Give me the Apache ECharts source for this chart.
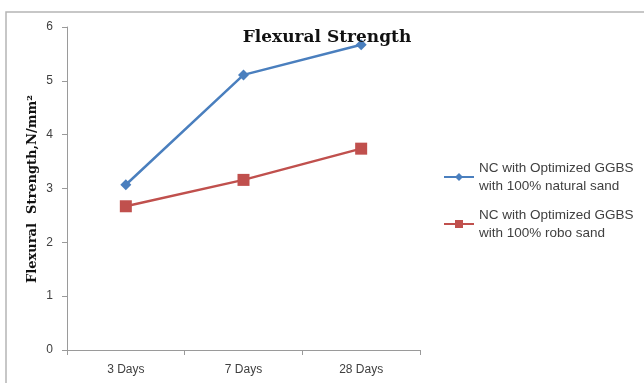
<!DOCTYPE html>
<html>
<head>
<meta charset="utf-8">
<script src="https://cdn.jsdelivr.net/npm/echarts@6/dist/echarts.min.js"></script>
<style>
  html, body { margin: 0; padding: 0; background: #fff; }
  #chart { width: 644px; height: 383px; }
</style>
</head>
<body>
<div id="chart"></div>
<script>
// Curing ages on the x axis
const ages = ['3 Days', '7 Days', '28 Days'];
// Flexural strength (N/mm²) for each mix
const naturalSand = [3.07, 5.11, 5.67];
const roboSand = [2.67, 3.16, 3.74];
const seriesNames = [
  'NC with Optimized GGBS\nwith 100% natural sand',
  'NC with Optimized GGBS\nwith 100% robo sand'
];
const yTicks = { min: 0, max: 6, interval: 1 };

const blue = '#4a7fbe';
const red = '#c0504d';

const chart = echarts.init(document.getElementById('chart'));
chart.setOption({
  animation: false,
  backgroundColor: '#ffffff',
  title: {
    text: 'Flexural Strength',
    left: 322,
    top: 24,
    textAlign: 'center',
    textStyle: { fontFamily: 'DejaVu Serif', fontWeight: 'bold', fontSize: 17, color: '#111' }
  },
  grid: { left: 67, right: 224, top: 27, bottom: 33 },
  legend: {
    orient: 'vertical',
    left: 443,
    top: 159,
    padding: 0,
    itemWidth: 30,
    itemHeight: 10,
    itemGap: 11,
    textStyle: { fontFamily: 'Liberation Sans', fontSize: 13.5, color: '#404040', lineHeight: 18 },
    data: seriesNames
  },
  xAxis: {
    type: 'category',
    data: ages,
    boundaryGap: true,
    axisLine: { lineStyle: { color: '#9a9a9a', width: 1 } },
    axisTick: { show: true, inside: false, length: 5, lineStyle: { color: '#9a9a9a' } },
    axisLabel: { fontFamily: 'Liberation Sans', fontSize: 12, color: '#404040', margin: 14 }
  },
  yAxis: {
    type: 'value',
    min: yTicks.min,
    max: yTicks.max,
    interval: yTicks.interval,
    splitLine: { show: false },
    axisLine: { show: true, lineStyle: { color: '#9a9a9a', width: 1 } },
    axisTick: { show: true, length: 5, lineStyle: { color: '#9a9a9a' } },
    axisLabel: { fontFamily: 'Liberation Sans', fontSize: 12, color: '#404040', margin: 14 }
  },
  graphic: [
    {
      type: 'rect',
      shape: { x: 6, y: 12, width: 700, height: 400 },
      style: { fill: 'none', stroke: '#b5b5b5', lineWidth: 1.5 },
      silent: true
    },
    {
      type: 'text',
      x: 33,
      y: 189,
      rotation: Math.PI / 2,
      style: {
        text: 'Flexural  Strength,N/mm²',
        fontFamily: 'DejaVu Serif',
        fontWeight: 'bold',
        fontSize: 13,
        fill: '#111',
        align: 'center',
        verticalAlign: 'middle'
      }
    }
  ],
  series: [
    {
      name: seriesNames[0],
      type: 'line',
      data: naturalSand,
      symbol: 'diamond',
      symbolSize: 11,
      color: blue,
      lineStyle: { width: 2.5, color: blue },
      itemStyle: { color: blue }
    },
    {
      name: seriesNames[1],
      type: 'line',
      data: roboSand,
      symbol: 'rect',
      symbolSize: 12,
      color: red,
      lineStyle: { width: 2.5, color: red },
      itemStyle: { color: red }
    }
  ]
});
</script>
</body>
</html>
